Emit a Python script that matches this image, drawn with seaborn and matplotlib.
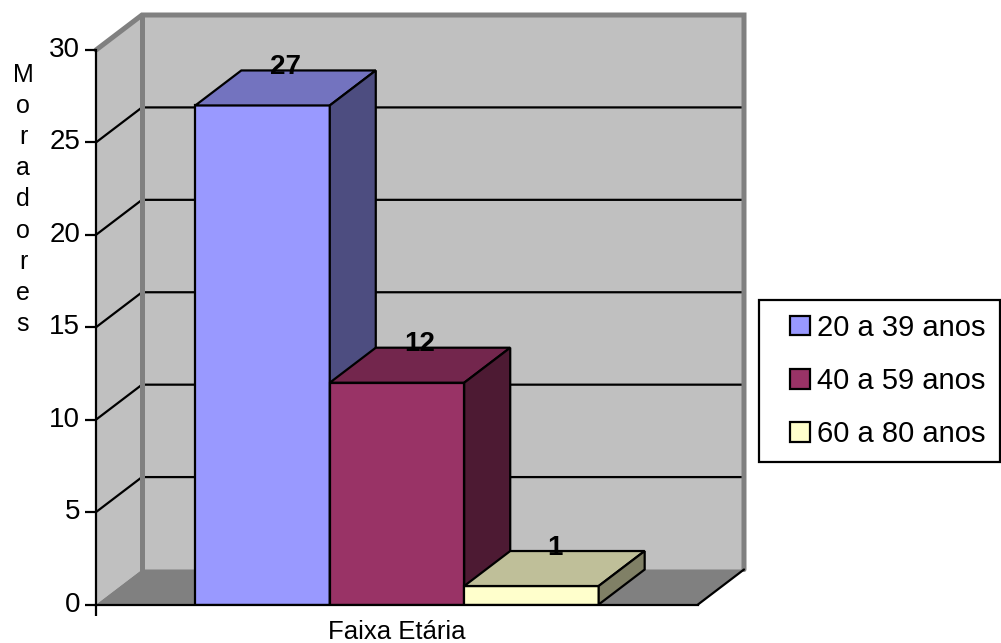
import matplotlib
matplotlib.use("Agg")
import matplotlib.pyplot as plt
import matplotlib.colors as mcolors
from matplotlib.patches import Polygon, Rectangle
from matplotlib.transforms import ScaledTranslation
import pandas as pd
import seaborn as sns

faixas = ["20 a 39 anos", "40 a 59 anos", "60 a 80 anos"]
moradores = [27, 12, 1]
cores = ["#9999FF", "#993366", "#FFFFCC"]
yticks = [0, 5, 10, 15, 20, 25, 30]

W, H = 1001, 643
LW = 1.6
sns.set_theme(style="white")
plt.rcParams["font.family"] = ["Liberation Sans", "DejaVu Sans"]

fig = plt.figure(figsize=(W / 100, H / 100), dpi=100)
# plot area in pixels: front plane of the 3d box
left, right, top, bottom = 96, 698, 50, 604.5
ax = fig.add_axes([left / W, 1 - bottom / H, (right - left) / W, (bottom - top) / H])

df = pd.DataFrame({"categoria": "Faixa Etária", "faixa": faixas, "moradores": moradores})
sns.barplot(data=df, x="categoria", y="moradores", hue="faixa", palette=cores, ax=ax,
            width=0.67, gap=0, edgecolor="black", linewidth=LW, saturation=1)
ax.set_xlim(-0.5, 0.5)
ax.set_ylim(0, 30)
ax.patch.set_alpha(0)

# depth of the box, pixels turned into data units
dx = 46 / (right - left)
dy = 35 * 30 / (bottom - top)
x0, x1 = ax.get_xlim()
y0, y1 = ax.get_ylim()

grey = "#808080"
wall = "#C0C0C0"
# back wall, side wall, floor
ax.add_patch(Polygon([(x0 + dx, y0 + dy), (x1 + dx, y0 + dy), (x1 + dx, y1 + dy), (x0 + dx, y1 + dy)],
                     fc=wall, ec="none", clip_on=False, zorder=0.1))
ax.add_patch(Polygon([(x0, y0), (x0 + dx, y0 + dy), (x0 + dx, y1 + dy), (x0, y1)],
                     fc=wall, ec="none", clip_on=False, zorder=0.1))
ax.add_patch(Polygon([(x0, y0), (x1, y0), (x1 + dx, y0 + dy), (x0 + dx, y0 + dy)],
                     fc=grey, ec="none", clip_on=False, zorder=0.2))
# gridlines
for t in yticks[1:-1]:
    ax.plot([x0, x0 + dx, x1 + dx], [t, t + dy, t + dy], color="black", lw=LW,
            clip_on=False, zorder=0.3)
# thick grey edges
ax.plot([x0, x0 + dx, x1 + dx, x1 + dx], [y1, y1 + dy, y1 + dy, y0 + dy], color=grey, lw=3.6,
        clip_on=False, zorder=0.4, solid_joinstyle="miter")
ax.plot([x0 + dx, x0 + dx], [y0 + dy, y1 + dy], color=grey, lw=3.6, clip_on=False, zorder=0.4)
ax.plot([x1, x1 + dx], [y0, y0 + dy], color="black", lw=LW, clip_on=False, zorder=0.5)

# sides and tops of the bars
bars = [p for p in ax.patches if isinstance(p, Rectangle) and p.get_height() > 0]
for i, (b, cor) in enumerate(zip(bars, cores)):
    xa, xb, h = b.get_x(), b.get_x() + b.get_width(), b.get_height()
    rgb = mcolors.to_rgb(cor)
    b.set_zorder(2 + i)
    ax.add_patch(Polygon([(xa, h), (xb, h), (xb + dx, h + dy), (xa + dx, h + dy)],
                         fc=[c * 0.75 for c in rgb], ec="black", lw=LW, clip_on=False, zorder=2 + i))
    ax.add_patch(Polygon([(xb, 0), (xb + dx, dy), (xb + dx, h + dy), (xb, h)],
                         fc=[c * 0.5 for c in rgb], ec="black", lw=LW, clip_on=False, zorder=2 + i))
    ax.annotate(str(moradores[i]), ((xa + xb + dx) / 2, h + dy), xytext=(0, 2.5), textcoords="offset points",
                ha="center", va="center", fontsize=20, fontweight="bold", color="black", zorder=10)

sns.despine(ax=ax)
for s in ["left", "bottom"]:
    ax.spines[s].set_linewidth(LW)
    ax.spines[s].set_color("black")
    ax.spines[s].set_zorder(6)
ax.set_yticks(yticks)
ax.set_xticks([x0], [""])
ax.tick_params(axis="y", left=True, length=8, width=LW, color="black", pad=3.5, labelsize=20, labelcolor="black")
ax.tick_params(axis="x", bottom=True, length=8, width=LW, color="black")
up = ScaledTranslation(0, 3 / 100, fig.dpi_scale_trans)
for lab in ax.get_yticklabels():
    lab.set_verticalalignment("center_baseline")
    lab.set_transform(lab.get_transform() + up)
ax.set_ylabel("")
ax.set_xlabel("Faixa Etária", fontsize=18.5, color="black", labelpad=0)

fig.text(23 / W, 1 - 199.5 / H, "\n".join("Moradores"), ha="center", va="center", fontsize=18,
         color="black", linespacing=1.38)

# legend
fig.add_artist(Rectangle((759 / W, 1 - 462 / H), 241 / W, 162 / H, fc="white", ec="black", lw=LW,
                         transform=fig.transFigure, zorder=-1))
handles, labels = ax.get_legend_handles_labels()
leg = ax.legend(handles, labels, loc="center left", bbox_to_anchor=(764 / W, 1 - 381 / H),
                bbox_transform=fig.transFigure, frameon=False, fontsize=21, handlelength=0.66,
                handleheight=0.66, handletextpad=0.25, labelspacing=0.87, labelcolor="black")
leg.set_zorder(20)

fig.savefig("out.png", dpi=100)
